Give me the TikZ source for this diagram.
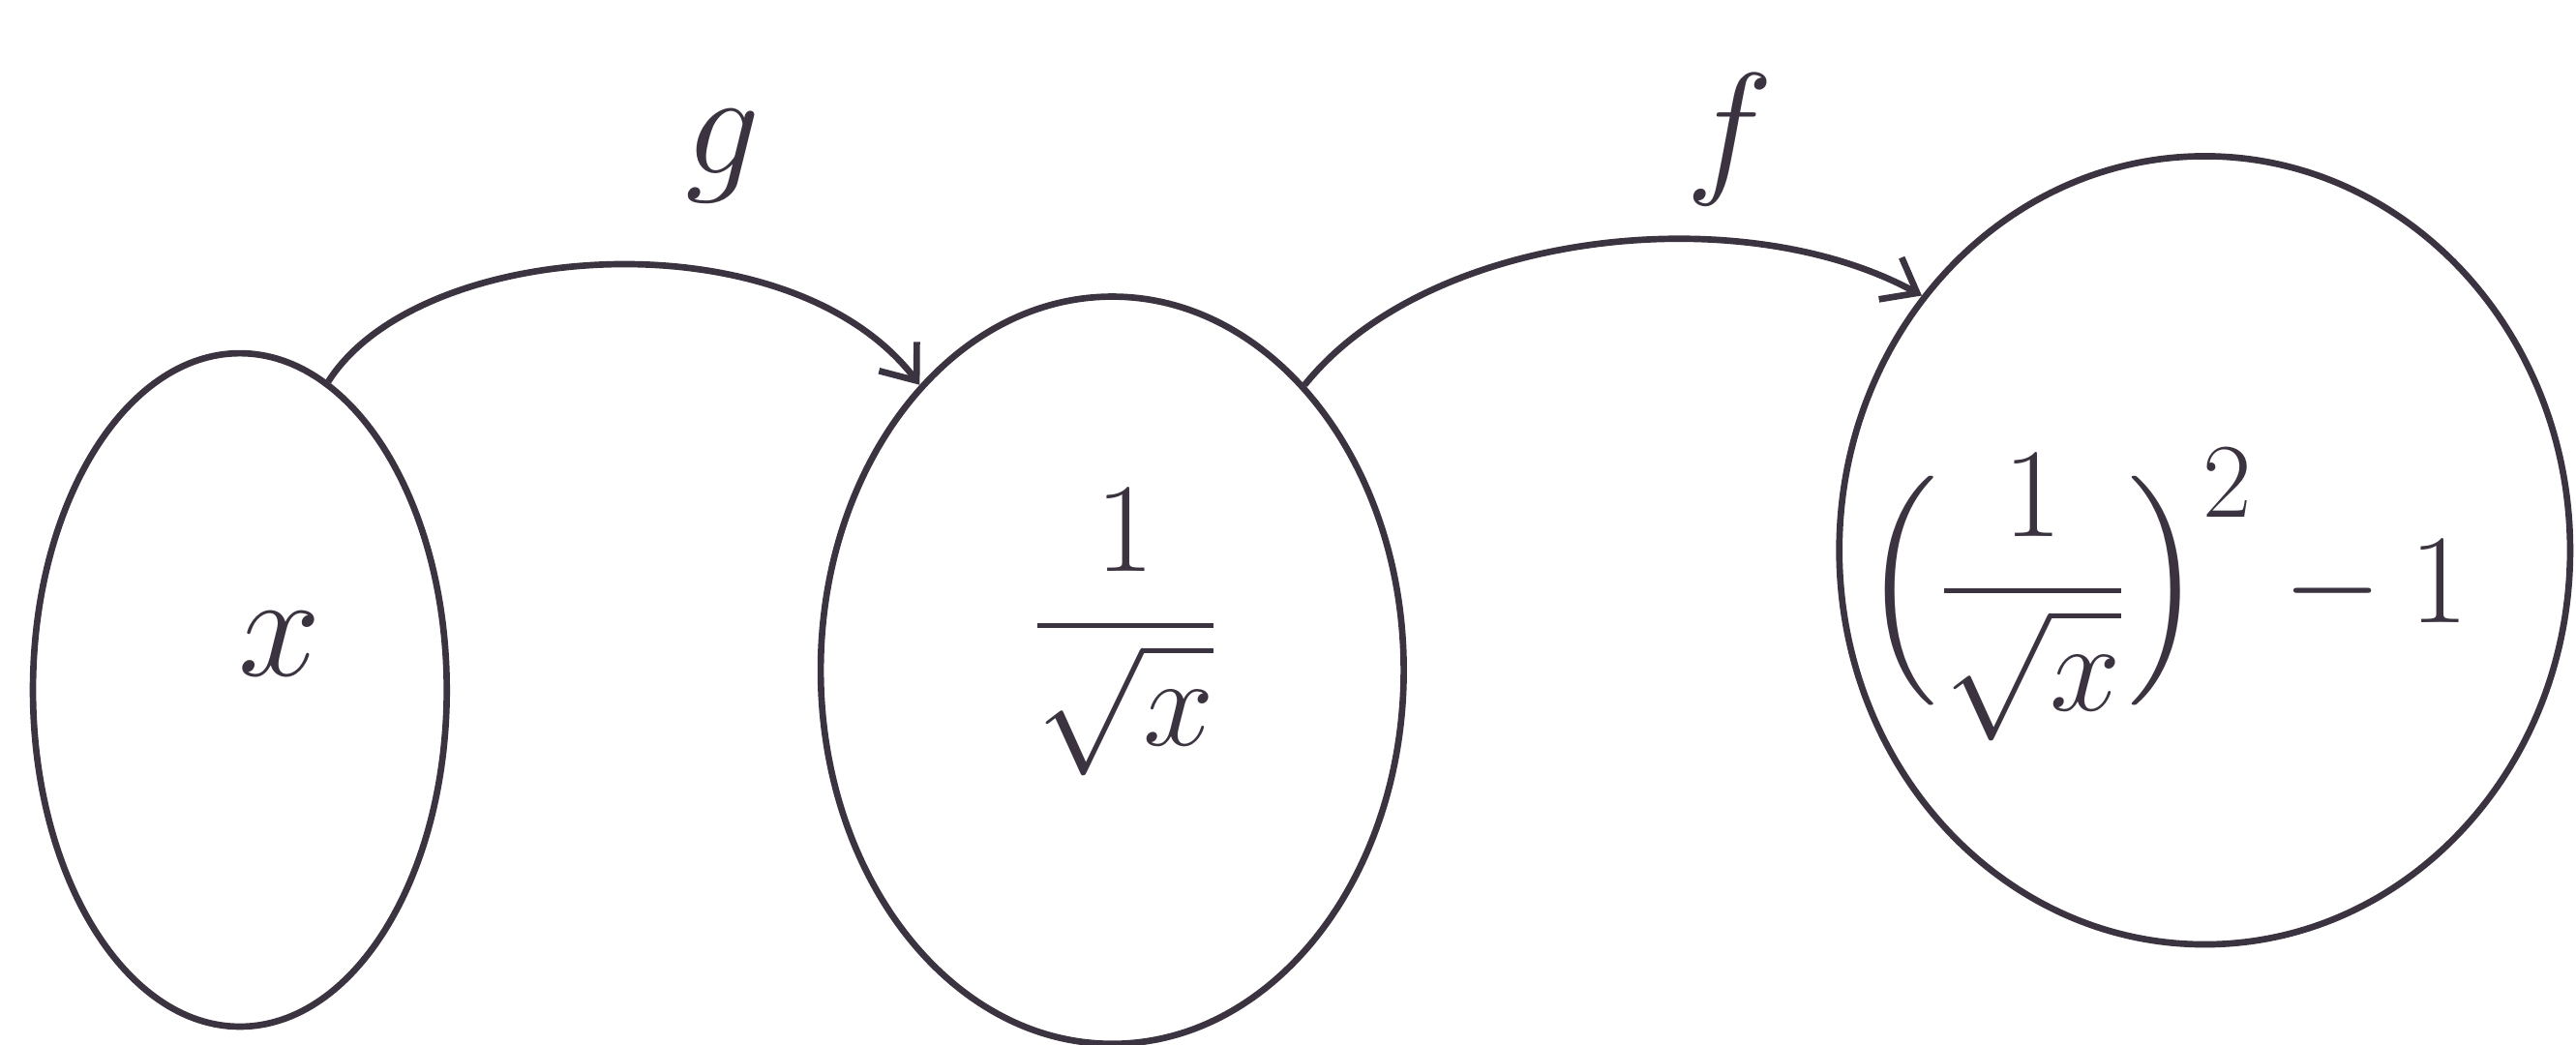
\documentclass[tikz,border=0pt]{standalone}
\usepackage{amsmath}
\usetikzlibrary{shapes.geometric,arrows.meta}
\definecolor{ink}{HTML}{3B3340}
\tikzset{
  blob/.style={ellipse, draw=ink, line width=1.9pt, inner sep=0pt},
  maparrow/.style={draw=ink, line width=1.9pt, -{Straight Barb[length=9pt,width=14pt,line width=1.9pt]}},
  hand/.style={text=ink, font=\Huge, scale=1.75, transform shape, inner sep=0pt},
}
\begin{document}
\begin{tikzpicture}[x=0.016977cm, y=-0.016977cm]
\useasboundingbox (0,0) rectangle (1568,636);
\node[blob, minimum width=4.278cm, minimum height=6.961cm] (e1) at (146,420) {};
\node[blob, minimum width=6.027cm, minimum height=7.725cm] (e2) at (677,408) {};
\node[blob, minimum width=7.555cm, minimum height=8.149cm] (e3) at (1342,335) {};
\node[hand] (t1) at (170,392) {$x$};
\node[hand, scale=0.86] (t2) at (685,385) {$\dfrac{1}{\sqrt{x}}$};
\node[hand, scale=0.86] (t3) at (1318,362) {$\Bigl(\dfrac{1}{\sqrt{x}}\Bigr)^{2}-1$};
\draw[maparrow] (e1.74) .. controls (255,145) and (480,130) .. (e2.124);
\draw[maparrow] (e2.56) .. controls (870,140) and (1060,120) .. (e3.138);
\node[hand] (lg) at (440,95) {$g$};
\node[hand] (lf) at (1053,85) {$f$};
\end{tikzpicture}
\end{document}
